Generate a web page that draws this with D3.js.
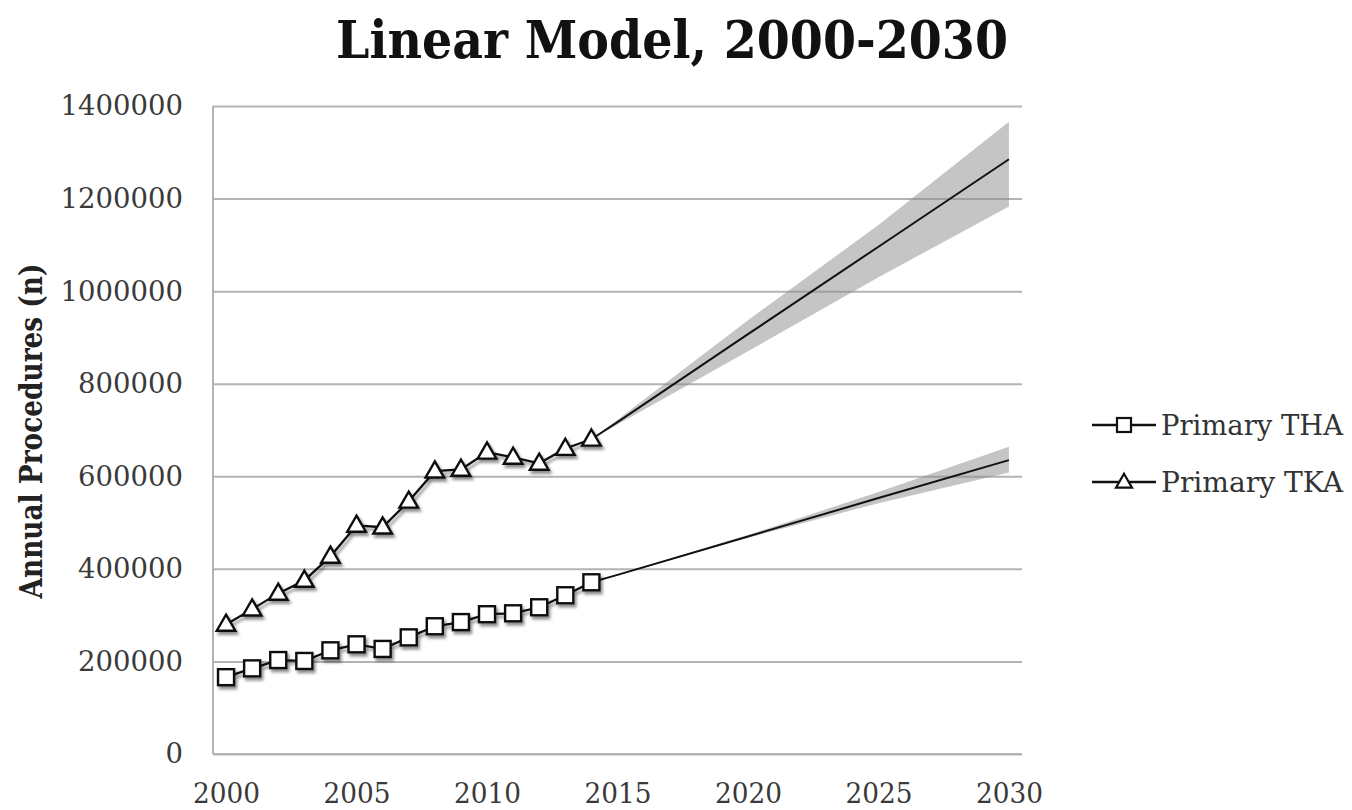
<!DOCTYPE html>
<html>
<head>
<meta charset="utf-8">
<script src="https://cdn.jsdelivr.net/npm/d3@7"></script>
<style>
    body { margin: 0; background: #fff; }
    svg { display: block; }
</style>
</head>
<body>
<svg id="grafico" width="1352" height="810"></svg>
<script>

// observed values 2000-2014
const years = [2000, 2001, 2002, 2003, 2004, 2005, 2006, 2007, 2008, 2009, 2010, 2011, 2012, 2013, 2014];
const tha = [166000, 185000, 203000, 201000, 224000, 237000, 227000, 252000, 276000, 285000, 302000, 304000, 317000, 343000, 371000];
const tka = [280000, 313000, 347000, 375000, 427000, 494000, 490000, 546000, 611000, 615000, 652000, 641000, 628000, 660000, 680000];

// linear model projection with interval
const projYears = [2014, 2015, 2020, 2025, 2030];
const thaProj = [371000, 387000, 470000, 553000, 635000];
const thaLow = [371000, 386000, 467000, 542000, 608000];
const thaHigh = [371000, 388000, 473000, 566000, 664000];
const tkaProj = [680000, 717000, 907000, 1096000, 1285000];
const tkaLow = [680000, 712000, 870000, 1030000, 1183000];
const tkaHigh = [680000, 722000, 937000, 1143000, 1366000];

const xTicks = [2000, 2005, 2010, 2015, 2020, 2025, 2030];
const yTicks = [0, 200000, 400000, 600000, 800000, 1000000, 1200000, 1400000];
const seriesNames = ["Primary THA", "Primary TKA"];

const titulo = "Linear Model, 2000-2030";
const tituloY = "Annual Procedures (n)";

desenharGrafico();

function desenharGrafico() {
    const svg = d3.select("#grafico");
    const left = 213, right = 1022, top = 106, bottom = 754;

    const xScale = d3.scaleLinear().domain([1999.5, 2030.5]).range([left, right]);
    const yScale = d3.scaleLinear().domain([0, 1400000]).range([bottom, top]);

    const defs = svg.append("defs");
    defs.append("filter")
        .attr("id", "sombra")
        .attr("x", "-20%").attr("y", "-20%")
        .attr("width", "140%").attr("height", "140%")
        .append("feDropShadow")
        .attr("dx", 2).attr("dy", 3)
        .attr("stdDeviation", 1.6)
        .attr("flood-color", "#000")
        .attr("flood-opacity", 0.45);

    // gridlines
    svg.append("g")
        .attr("transform", `translate(${left},0)`)
        .call(d3.axisLeft(yScale).tickValues(yTicks).tickSize(-(right - left)).tickFormat(""))
        .call(g => g.select(".domain").remove())
        .selectAll("line")
        .attr("stroke", "#b3b3b3")
        .attr("stroke-width", 2);

    // y tick labels
    const yAxis = svg.append("g")
        .attr("transform", `translate(${left},0)`)
        .call(d3.axisLeft(yScale).tickValues(yTicks).tickSize(0).tickPadding(30).tickFormat(d3.format("d")));
    yAxis.select(".domain").remove();
    yAxis.selectAll("text")
        .attr("font-family", "DejaVu Serif")
        .attr("font-size", 28)
        .attr("fill", "#3a3a3a")
        .attr("textLength", d => String(d).length * 17.5)
        .attr("lengthAdjust", "spacingAndGlyphs");

    // x tick labels
    const xAxis = svg.append("g")
        .attr("transform", `translate(0,${bottom})`)
        .call(d3.axisBottom(xScale).tickValues(xTicks).tickSize(0).tickPadding(29).tickFormat(d3.format("d")));
    xAxis.select(".domain").remove();
    xAxis.selectAll("text")
        .attr("font-family", "DejaVu Serif")
        .attr("font-size", 28)
        .attr("fill", "#3a3a3a")
        .attr("textLength", 67)
        .attr("lengthAdjust", "spacingAndGlyphs");

    // axis lines
    svg.append("line")
        .attr("x1", left).attr("x2", left)
        .attr("y1", top).attr("y2", bottom)
        .attr("stroke", "#b3b3b3").attr("stroke-width", 2);
    svg.append("line")
        .attr("x1", left).attr("x2", right)
        .attr("y1", bottom).attr("y2", bottom)
        .attr("stroke", "#b3b3b3").attr("stroke-width", 2);

    // bands
    const faixa = d3.area()
        .x((d, i) => xScale(projYears[i]))
        .y0(d => yScale(d[0]))
        .y1(d => yScale(d[1]));

    const bandas = [
        d3.zip(thaLow, thaHigh),
        d3.zip(tkaLow, tkaHigh)
    ];
    svg.selectAll(".faixa")
        .data(bandas)
        .enter()
        .append("path")
        .attr("class", "faixa")
        .attr("d", faixa)
        .attr("fill", "#8c8c8c")
        .attr("fill-opacity", 0.5);

    // projection lines
    const linhaProj = d3.line()
        .x((d, i) => xScale(projYears[i]))
        .y(d => yScale(d));

    [thaProj, tkaProj].forEach(serie => {
        svg.append("path")
            .attr("d", linhaProj(serie))
            .attr("fill", "none")
            .attr("stroke", "#111")
            .attr("stroke-width", 2);
    });

    // observed lines with markers
    const linha = d3.line()
        .x((d, i) => xScale(years[i]))
        .y(d => yScale(d));

    const gObs = svg.append("g").attr("filter", "url(#sombra)");

    [tha, tka].forEach(serie => {
        gObs.append("path")
            .attr("d", linha(serie))
            .attr("fill", "none")
            .attr("stroke", "#111")
            .attr("stroke-width", 2.3);
    });

    gObs.selectAll(".quadrado")
        .data(tha)
        .enter()
        .append("rect")
        .attr("class", "quadrado")
        .attr("x", (d, i) => xScale(years[i]) - 8)
        .attr("y", d => yScale(d) - 8)
        .attr("width", 16)
        .attr("height", 16)
        .attr("fill", "#fff")
        .attr("stroke", "#111")
        .attr("stroke-width", 2.4);

    const triangulo = d3.symbol().type(d3.symbolTriangle).size(150);
    gObs.selectAll(".triangulo")
        .data(tka)
        .enter()
        .append("path")
        .attr("class", "triangulo")
        .attr("d", triangulo)
        .attr("transform", (d, i) => `translate(${xScale(years[i])},${yScale(d) + 1})`)
        .attr("fill", "#fff")
        .attr("stroke", "#111")
        .attr("stroke-width", 2.4);

    // legend
    const legenda = svg.append("g").attr("transform", "translate(1092,425)");
    seriesNames.forEach((nome, i) => {
        const item = legenda.append("g").attr("transform", `translate(0,${i * 57})`);
        item.append("line")
            .attr("x1", 0).attr("x2", 64)
            .attr("stroke", "#111").attr("stroke-width", 2.3);
        if (i === 0) {
            item.append("rect")
                .attr("x", 25).attr("y", -7)
                .attr("width", 14).attr("height", 14)
                .attr("fill", "#fff").attr("stroke", "#111").attr("stroke-width", 2.2);
        } else {
            item.append("path")
                .attr("d", d3.symbol().type(d3.symbolTriangle).size(110))
                .attr("transform", "translate(32,1)")
                .attr("fill", "#fff").attr("stroke", "#111").attr("stroke-width", 2.2);
        }
        item.append("text")
            .attr("x", 69)
            .attr("y", 10)
            .attr("font-family", "DejaVu Serif")
            .attr("font-size", 27)
            .attr("fill", "#333")
            .attr("textLength", 182)
            .attr("lengthAdjust", "spacingAndGlyphs")
            .text(nome);
    });

    // title
    svg.append("text")
        .attr("x", 672)
        .attr("y", 58)
        .attr("text-anchor", "middle")
        .attr("font-family", "DejaVu Serif")
        .attr("font-weight", "bold")
        .attr("font-size", 52)
        .attr("fill", "#111")
        .attr("textLength", 672)
        .attr("lengthAdjust", "spacingAndGlyphs")
        .text(titulo);

    // y axis title
    svg.append("text")
        .attr("transform", "translate(42,431) rotate(-90)")
        .attr("text-anchor", "middle")
        .attr("font-family", "DejaVu Serif")
        .attr("font-weight", "bold")
        .attr("font-size", 32)
        .attr("fill", "#222")
        .attr("textLength", 335)
        .attr("lengthAdjust", "spacingAndGlyphs")
        .text(tituloY);
}
</script>
</body>
</html>
